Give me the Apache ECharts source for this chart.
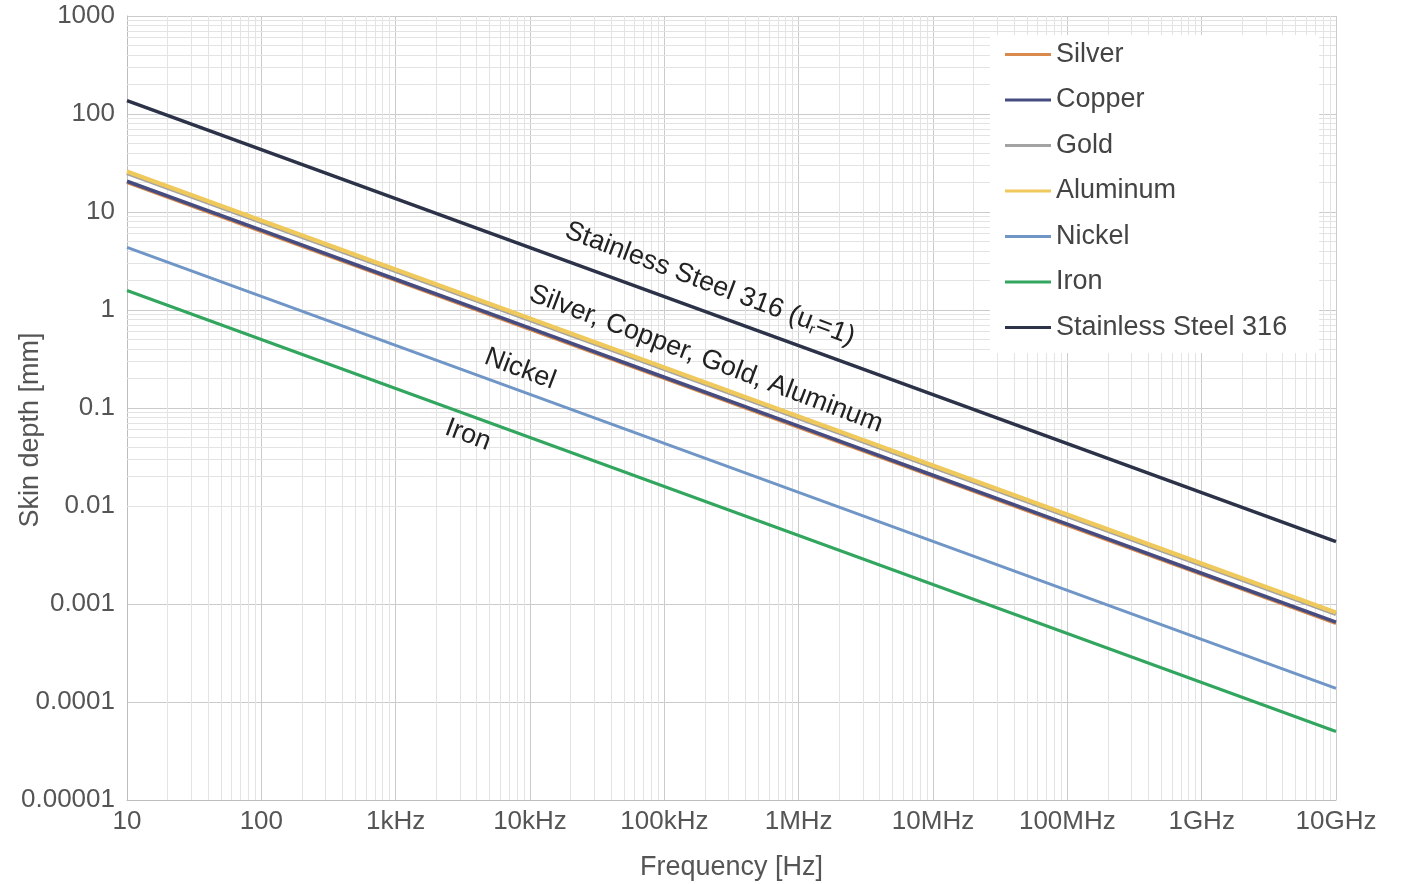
<!DOCTYPE html>
<html>
<head>
<meta charset="utf-8">
<script src="https://cdn.jsdelivr.net/npm/echarts@6/dist/echarts.min.js"></script>
<style>
  html, body { margin: 0; padding: 0; background: #fff; }
  #chart { width: 1402px; height: 884px; }
</style>
</head>
<body>
<div id="chart"></div>
<script>
// frequencies (Hz), one point per decade
const frequencies = [10, 100, 1e3, 1e4, 1e5, 1e6, 1e7, 1e8, 1e9, 1e10];

// skin depth [mm]
const silver    = [20.1, 6.36, 2.01, 0.636, 0.201, 0.0636, 0.0201, 0.00636, 0.00201, 0.000636];
const copper    = [20.6, 6.52, 2.06, 0.652, 0.206, 0.0652, 0.0206, 0.00652, 0.00206, 0.000652];
const gold      = [24.9, 7.87, 2.49, 0.787, 0.249, 0.0787, 0.0249, 0.00787, 0.00249, 0.000787];
const aluminum  = [25.9, 8.19, 2.59, 0.819, 0.259, 0.0819, 0.0259, 0.00819, 0.00259, 0.000819];
const nickel    = [4.35, 1.38, 0.435, 0.138, 0.0435, 0.0138, 0.00435, 0.00138, 0.000435, 0.000138];
const iron      = [1.58, 0.5, 0.158, 0.05, 0.0158, 0.005, 0.00158, 0.0005, 0.000158, 0.00005];
const stainless = [137, 43.3, 13.7, 4.33, 1.37, 0.433, 0.137, 0.0433, 0.0137, 0.00433];

const seriesNames = ['Silver', 'Copper', 'Gold', 'Aluminum', 'Nickel', 'Iron', 'Stainless Steel 316'];
const seriesValues = [silver, copper, gold, aluminum, nickel, iron, stainless];
const seriesColors = ['#d98a4c', '#474c80', '#a3a3a3', '#f0c95c', '#6f96c6', '#32a65e', '#2c3348'];
const seriesWidths = [3.5, 3.5, 4, 4, 3, 3, 3.5];

// tick labels, indexed by decade exponent
const xTickLabels = {1: '10', 2: '100', 3: '1kHz', 4: '10kHz', 5: '100kHz', 6: '1MHz', 7: '10MHz', 8: '100MHz', 9: '1GHz', 10: '10GHz'};
const yTickLabels = {3: '1000', 2: '100', 1: '10', 0: '1', '-1': '0.1', '-2': '0.01', '-3': '0.001', '-4': '0.0001', '-5': '0.00001'};

const FONT = '"Liberation Sans", Arial, Helvetica, sans-serif';

// minor grid values 2..9 per decade
function minorLines(fromExp, toExp) {
  const out = [];
  for (let e = fromExp; e < toExp; e++) {
    for (let k = 2; k <= 9; k++) out.push(k * Math.pow(10, e));
  }
  return out;
}

const chart = echarts.init(document.getElementById('chart'));

const series = seriesNames.map((name, i) => ({
  name: name,
  type: 'line',
  data: frequencies.map((f, j) => [f, seriesValues[i][j]]),
  showSymbol: false,
  symbol: 'none',
  lineStyle: {width: seriesWidths[i], color: seriesColors[i]},
  itemStyle: {color: seriesColors[i]},
  z: 3,
  animation: false
}));

series.unshift({
  name: 'grid-minor',
  type: 'line',
  data: [],
  silent: true,
  z: 1,
  animation: false,
  markLine: {
    silent: true,
    z: 1,
    symbol: 'none',
    animation: false,
    label: {show: false},
    lineStyle: {color: '#e3e3e3', width: 1, type: 'solid'},
    data: minorLines(1, 10).map(v => ({xAxis: v}))
      .concat(minorLines(-5, 3).map(v => ({yAxis: v})))
  }
});

const option = {
  backgroundColor: '#fff',
  animation: false,
  grid: {left: 127, right: 66, top: 16, bottom: 84, outerBoundsMode: 'none'},
  legend: {
    data: seriesNames,
    orient: 'vertical',
    left: 990,
    top: 35,
    padding: [6, 32, 12, 15],
    backgroundColor: '#fff',
    icon: 'rect',
    itemWidth: 46,
    itemHeight: 3,
    itemGap: 18.5,
    z: 6,
    textStyle: {fontSize: 27, color: '#444', fontFamily: FONT},
    selectedMode: false
  },
  xAxis: {
    type: 'log',
    logBase: 10,
    min: 10,
    max: 1e10,
    splitNumber: 9,
    name: 'Frequency [Hz]',
    nameLocation: 'middle',
    nameGap: 54,
    nameMoveOverlap: false,
    nameTextStyle: {fontSize: 27, color: '#555', fontFamily: FONT},
    axisLine: {lineStyle: {color: '#bdbdbd', width: 1}},
    axisTick: {show: false},
    axisLabel: {
      fontSize: 26, color: '#555', fontFamily: FONT, margin: 9,
      formatter: v => xTickLabels[Math.round(Math.log10(v))]
    },
    splitLine: {show: true, lineStyle: {color: '#cbcbcb', width: 1}}
  },
  yAxis: {
    type: 'log',
    logBase: 10,
    min: 0.00001,
    max: 1000,
    splitNumber: 8,
    name: 'Skin depth [mm]',
    nameLocation: 'middle',
    nameGap: 83,
    nameMoveOverlap: false,
    nameTextStyle: {fontSize: 27, color: '#555', fontFamily: FONT, padding: [0, 44, 0, 0]},
    axisLine: {show: true, lineStyle: {color: '#bdbdbd', width: 1}},
    axisTick: {show: false},
    axisLabel: {
      fontSize: 26, color: '#555', fontFamily: FONT, margin: 12,
      formatter: v => yTickLabels[Math.round(Math.log10(v))]
    },
    splitLine: {show: true, lineStyle: {color: '#cbcbcb', width: 1}}
  },
  graphic: [
    {
      type: 'text', x: 710, y: 284, rotation: -0.36, z: 10,
      style: {
        text: 'Stainless Steel 316 (u{s|r}=1)',
        fontSize: 27, fontFamily: FONT, fill: '#222', align: 'center', verticalAlign: 'middle',
        rich: {s: {fontSize: 15, fontFamily: FONT, fill: '#222', padding: [14, 0, 0, 0]}}
      }
    },
    {
      type: 'text', x: 706, y: 359, rotation: -0.36, z: 10,
      style: {text: 'Silver, Copper, Gold, Aluminum', fontSize: 27, fontFamily: FONT, fill: '#222', align: 'center', verticalAlign: 'middle'}
    },
    {
      type: 'text', x: 520, y: 369, rotation: -0.36, z: 10,
      style: {text: 'Nickel', fontSize: 27, fontFamily: FONT, fill: '#222', align: 'center', verticalAlign: 'middle'}
    },
    {
      type: 'text', x: 468, y: 435, rotation: -0.36, z: 10,
      style: {text: 'Iron', fontSize: 27, fontFamily: FONT, fill: '#222', align: 'center', verticalAlign: 'middle'}
    }
  ],
  series: series
};

chart.setOption(option);
</script>
</body>
</html>
